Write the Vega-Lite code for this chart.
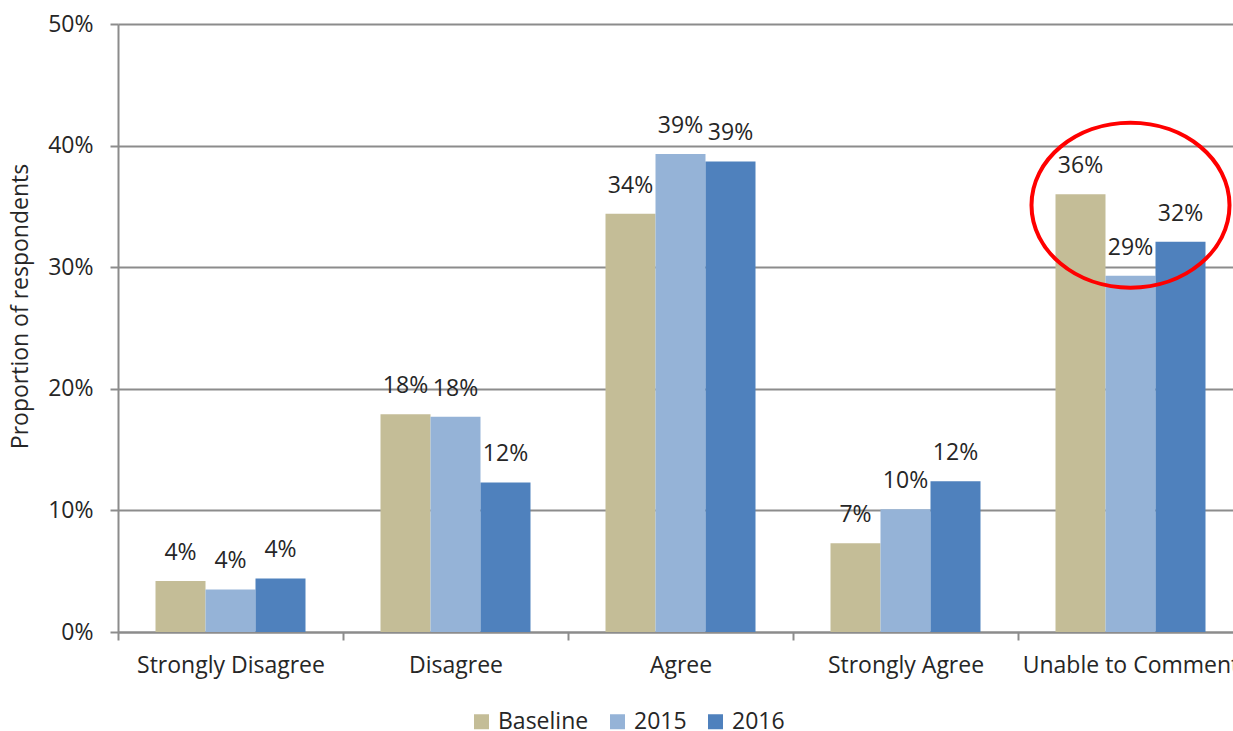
{
  "$schema": "https://vega.github.io/schema/vega-lite/v6.json",
  "width": 1115,
  "height": 608,
  "autosize": "none",
  "padding": {"left": 118, "top": 24, "right": 0, "bottom": 99},
  "background": "white",
  "config": {
    "view": {"stroke": null},
    "font": "Open Sans",
    "text": {"font": "Open Sans"}
  },
  "datasets": {
    "responses": [
      {"category": "Strongly Disagree", "series": "Baseline", "value": 0.042},
      {"category": "Strongly Disagree", "series": "2015", "value": 0.035},
      {"category": "Strongly Disagree", "series": "2016", "value": 0.044},
      {"category": "Disagree", "series": "Baseline", "value": 0.179},
      {"category": "Disagree", "series": "2015", "value": 0.177},
      {"category": "Disagree", "series": "2016", "value": 0.123},
      {"category": "Agree", "series": "Baseline", "value": 0.344},
      {"category": "Agree", "series": "2015", "value": 0.393},
      {"category": "Agree", "series": "2016", "value": 0.387},
      {"category": "Strongly Agree", "series": "Baseline", "value": 0.073},
      {"category": "Strongly Agree", "series": "2015", "value": 0.101},
      {"category": "Strongly Agree", "series": "2016", "value": 0.124},
      {"category": "Unable to Comment", "series": "Baseline", "value": 0.36},
      {"category": "Unable to Comment", "series": "2015", "value": 0.293},
      {"category": "Unable to Comment", "series": "2016", "value": 0.321}
    ],
    "highlight": [
      {"category": "Unable to Comment", "value": 0.351}
    ]
  },
  "encoding": {
    "x": {
      "field": "category",
      "type": "nominal",
      "sort": ["Strongly Disagree", "Disagree", "Agree", "Strongly Agree", "Unable to Comment"],
      "scale": {"range": [0, 1125], "paddingInner": 0, "paddingOuter": 0},
      "axis": {
        "title": null,
        "labelAngle": 0,
        "labelFontSize": 23,
        "labelColor": "#262626",
        "labelPadding": 14,
        "domainColor": "#8c8c8c",
        "domainWidth": 2,
        "tickColor": "#8c8c8c",
        "tickWidth": 2,
        "tickSize": 8,
        "tickBand": "extent",
        "labelOverlap": false,
        "labelLimit": 0
      }
    },
    "y": {
      "field": "value",
      "type": "quantitative",
      "scale": {"domain": [0, 0.5], "nice": false, "zero": true},
      "axis": {
        "values": [0, 0.1, 0.2, 0.3, 0.4, 0.5],
        "format": ".0%",
        "title": "Proportion of respondents",
        "titleFontSize": 23,
        "titleFontWeight": "normal",
        "titleColor": "#262626",
        "titleX": -98,
        "titleY": 282,
        "titleAngle": -90,
        "titleAlign": "center",
        "titleBaseline": "middle",
        "labelFontSize": 23,
        "labelColor": "#262626",
        "labelPadding": 17,
        "domainColor": "#8c8c8c",
        "domainWidth": 2,
        "tickColor": "#8c8c8c",
        "tickWidth": 2,
        "tickSize": 8,
        "grid": true,
        "gridColor": "#8c8c8c",
        "gridWidth": 2
      }
    }
  },
  "layer": [
    {
      "data": {"name": "responses"},
      "mark": {"type": "bar"},
      "encoding": {
        "xOffset": {
          "field": "series",
          "type": "nominal",
          "sort": ["Baseline", "2015", "2016"],
          "scale": {"paddingInner": 0, "paddingOuter": 0.75}
        },
        "color": {
          "field": "series",
          "type": "nominal",
          "sort": ["Baseline", "2015", "2016"],
          "scale": {"domain": ["Baseline", "2015", "2016"], "range": ["#c4bd97", "#95b3d7", "#4f81bd"]},
          "legend": {
            "title": null,
            "orient": "none",
            "direction": "horizontal",
            "legendX": 352,
            "legendY": 686,
            "symbolType": "square",
            "symbolSize": 225,
            "symbolStrokeWidth": 0,
            "symbolOpacity": 1,
            "labelFontSize": 23,
            "labelColor": "#262626",
            "labelOffset": 5,
            "columnPadding": 17
          }
        }
      }
    },
    {
      "data": {"name": "responses"},
      "mark": {"type": "text", "baseline": "middle", "align": "center", "dy": -28, "fontSize": 23, "color": "#262626"},
      "encoding": {
        "xOffset": {
          "field": "series",
          "type": "nominal",
          "sort": ["Baseline", "2015", "2016"],
          "scale": {"paddingInner": 0, "paddingOuter": 0.75}
        },
        "text": {"field": "value", "type": "quantitative", "format": ".0%"}
      }
    },
    {
      "data": {"name": "highlight"},
      "mark": {
        "type": "point",
        "shape": "M-1,0A1,0.833,0,1,0,1,0A1,0.833,0,1,0,-1,0Z",
        "size": 39204,
        "filled": false,
        "stroke": "#ff0000",
        "strokeWidth": 4,
        "opacity": 1
      }
    }
  ]
}
